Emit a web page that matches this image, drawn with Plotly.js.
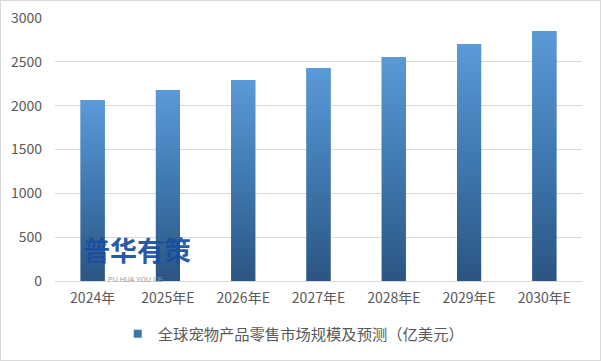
<!DOCTYPE html>
<html>
<head>
<meta charset="utf-8">
<script src="https://cdn.plot.ly/plotly-3.0.1.min.js"></script>
<style>
html,body{margin:0;padding:0;background:#fff;}
#wrap{position:relative;width:601px;height:361px;}
#chart{width:601px;height:361px;}
#frame{position:absolute;left:0;top:0;width:599px;height:359px;border:1px solid #d9d9d9;pointer-events:none;}
</style>
</head>
<body>
<div id="wrap"><div id="chart"></div><div id="frame"></div></div>
<script>
const categories = ["2024年","2025年E","2026年E","2027年E","2028年E","2029年E","2030年E"];
const values = [2065, 2178, 2293, 2430, 2555, 2703, 2852];
const seriesName = "全球宠物产品零售市场规模及预测（亿美元）";
const yTicks = [0, 500, 1000, 1500, 2000, 2500, 3000];

const barWidth = 0.32;
const idx = categories.map((c, i) => i);
const font = "Noto Sans CJK SC, Liberation Sans, sans-serif";

const traces = [{
  type: "bar",
  x: idx,
  y: values,
  width: barWidth,
  name: seriesName,
  marker: {color: "#3f76aa"},
  hoverinfo: "y",
  showlegend: false
}];

// gradient overlays built from the same data
values.forEach((v, i) => {
  const h = barWidth / 2;
  traces.push({
    type: "scatter",
    mode: "lines",
    x: [i - h, i + h, i + h, i - h, i - h],
    y: [0, 0, v, v, 0],
    fill: "toself",
    line: {width: 0, color: "rgba(0,0,0,0)"},
    fillgradient: {
      type: "vertical",
      colorscale: [[0, "#2b5582"], [0.5, "#3f78b0"], [1, "#5a9ad8"]]
    },
    hoverinfo: "skip",
    showlegend: false
  });
});

// legend entry for the series
traces.push({
  type: "scatter",
  mode: "markers",
  x: [null],
  y: [null],
  name: seriesName,
  marker: {symbol: "square", size: 8, color: "#3f76aa"},
  showlegend: true,
  hoverinfo: "skip"
});

const layout = {
  width: 601,
  height: 361,
  margin: {l: 55, r: 19, t: 18, b: 80},
  paper_bgcolor: "#fff",
  plot_bgcolor: "#fff",
  font: {family: font, color: "#595959", size: 13},
  xaxis: {
    range: [-0.5, categories.length - 0.5],
    tickvals: idx,
    ticktext: categories,
    showgrid: false,
    zeroline: false,
    showline: true,
    linecolor: "#d9d9d9",
    linewidth: 1,
    ticks: "",
    ticklabelstandoff: 4,
    tickfont: {size: 14, color: "#595959"},
    fixedrange: true
  },
  yaxis: {
    range: [0, 3000],
    tickvals: yTicks,
    showgrid: true,
    gridcolor: "#d9d9d9",
    gridwidth: 1,
    zeroline: false,
    showline: false,
    ticks: "",
    ticklabelstandoff: 12,
    tickfont: {size: 14, color: "#595959"},
    fixedrange: true
  },
  showlegend: true,
  legend: {
    orientation: "h",
    xref: "container",
    yref: "container",
    x: 0.488,
    xanchor: "center",
    y: 0.075,
    yanchor: "middle",
    font: {size: 15.3, color: "#595959"},
    itemwidth: 30,
    tracegroupgap: 0
  },
  annotations: [
    {
      xref: "paper", yref: "paper",
      x: 0.05, y: 0.118, xanchor: "left", yanchor: "middle",
      text: "<b>普华有策</b>", showarrow: false,
      font: {family: font, size: 27, color: "rgba(26,79,160,0.95)"}
    },
    {
      xref: "paper", yref: "paper",
      x: 0.152, y: 0.004, xanchor: "center", yanchor: "middle",
      text: "PU HUA YOU CE", showarrow: false,
      font: {family: "Liberation Sans", size: 7, color: "#9a9a9a"}
    }
  ]
};

Plotly.newPlot("chart", traces, layout, {displayModeBar: false, staticPlot: true});
</script>
</body>
</html>
